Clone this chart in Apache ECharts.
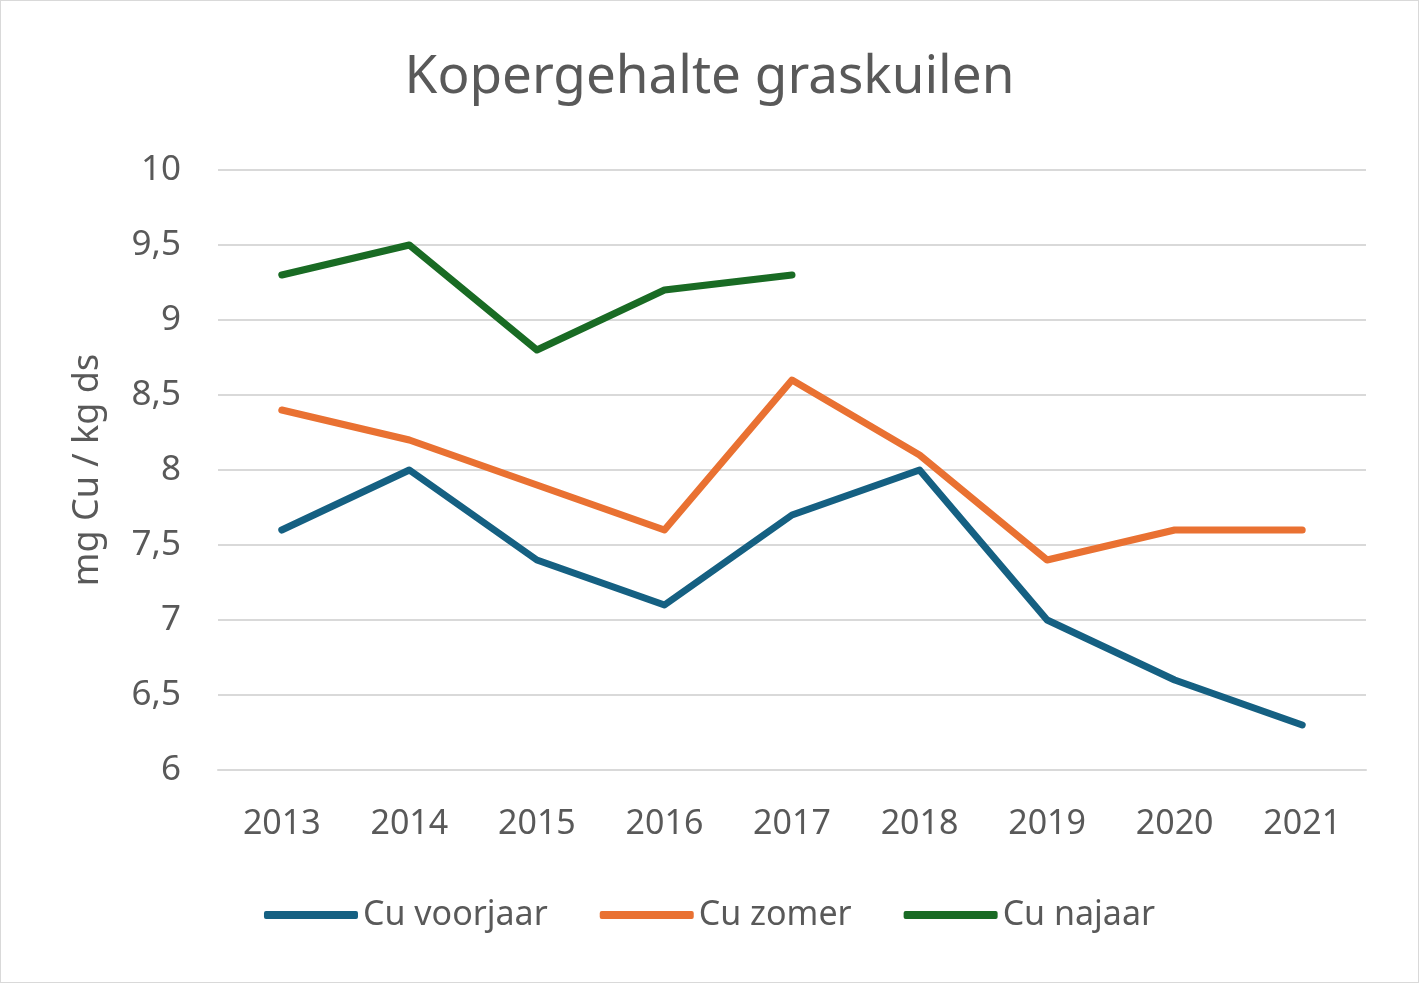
<!DOCTYPE html>
<html>
<head>
<meta charset="utf-8">
<script src="https://cdn.jsdelivr.net/npm/echarts@6/dist/echarts.min.js"></script>
<style>
html,body{margin:0;padding:0;background:#fff;}
#wrap{position:absolute;left:0;top:0;width:1417px;height:981px;border:1px solid #d9d9d9;}
#chart{width:1417px;height:981px;}
</style>
</head>
<body>
<div id="wrap"><div id="chart"></div></div>
<script>
const years = ['2013','2014','2015','2016','2017','2018','2019','2020','2021'];
const cuVoorjaar = [7.6, 8.0, 7.4, 7.1, 7.7, 8.0, 7.0, 6.6, 6.3];
const cuZomer = [8.4, 8.2, 7.9, 7.6, 8.6, 8.1, 7.4, 7.6, 7.6];
const cuNajaar = [9.3, 9.5, 8.8, 9.2, 9.3, null, null, null, null];
const FONT = '"Noto Sans", sans-serif';
const chart = echarts.init(document.getElementById('chart'), null, {renderer:'canvas'});
function mk(name, data, color){
  return {name, type:'line', data, symbol:'none', connectNulls:false,
    lineStyle:{width:7, color, cap:'round', join:'round'}, itemStyle:{color}};
}
chart.setOption({
  animation:false,
  title:{text:'Kopergehalte graskuilen', left:'center', top:45,
    textStyle:{fontFamily:FONT, fontSize:53, fontWeight:'normal', color:'#595959'}},
  grid:{left:217, right:52, top:169, bottom:212, containLabel:false},
  legend:{bottom:45, left:'center', itemWidth:94, itemHeight:8, itemGap:52, icon:'roundRect',
    textStyle:{fontFamily:FONT, fontSize:34, color:'#595959'}},
  xAxis:{type:'category', data:years, boundaryGap:true,
    axisLine:{lineStyle:{color:'#d9d9d9', width:2}}, axisTick:{show:false},
    axisLabel:{fontFamily:FONT, fontSize:34, color:'#595959', margin:37}},
  yAxis:{type:'value', min:6, max:10, interval:0.5,
    name:'mg Cu / kg ds', nameLocation:'middle', nameGap:112, nameRotate:90,
    nameTextStyle:{fontFamily:FONT, fontSize:36, color:'#595959'},
    axisLine:{show:false}, axisTick:{show:false},
    splitLine:{lineStyle:{color:'#d9d9d9', width:2}},
    axisLabel:{fontFamily:FONT, fontSize:35, color:'#595959', margin:37,
      formatter:v=>String(v).replace('.',',')}},
  series:[mk('Cu voorjaar', cuVoorjaar, '#156082'), mk('Cu zomer', cuZomer, '#E97132'), mk('Cu najaar', cuNajaar, '#196B24')]
});
</script>
</body>
</html>
